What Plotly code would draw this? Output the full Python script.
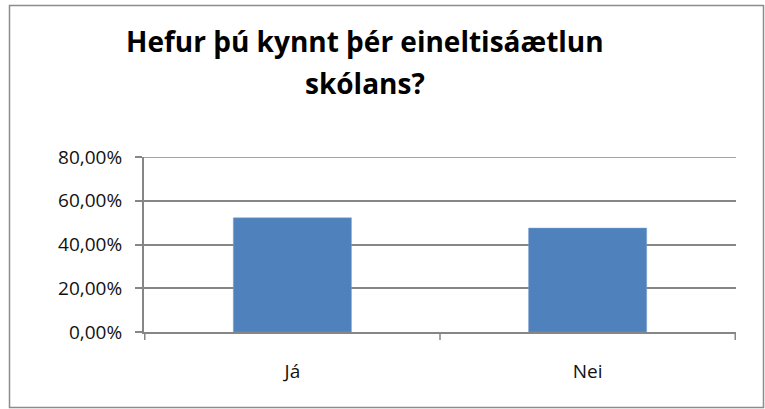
import plotly.graph_objects as go

# ---------------------------------------------------------------------------
# Data
# ---------------------------------------------------------------------------
categories = ["Já", "Nei"]
shares = [52.2, 47.5]  # percent
y_ticks = [0, 20, 40, 60, 80]
y_tick_labels = ["0,00%", "20,00%", "40,00%", "60,00%", "80,00%"]
title_lines = ["Hefur þú kynnt þér eineltisáætlun", "skólans?"]

BAR = "#4f81bd"
GRID = "#868686"
FONT = "Open Sans, Liberation Sans, sans-serif"

W, H = 765, 409
L, R, T, B = 144, 736, 157, 332  # plot area in pixels


def px_x(x):
    return (x - L) / (R - L)


def px_y(y):
    return (B - y) / (B - T)


fig = go.Figure()
fig.add_trace(go.Bar(
    x=categories,
    y=shares,
    marker=dict(color=BAR, line=dict(color="#7a9fcf", width=0.5)),
    width=0.4,
    hovertemplate="%{x}: %{y:.2f}%<extra></extra>",
))

fig.update_layout(
    width=W, height=H,
    margin=dict(l=L, r=W - R, t=T, b=H - B, pad=0),
    paper_bgcolor="white",
    plot_bgcolor="white",
    showlegend=False,
    font=dict(family=FONT, size=19, color="#111111"),
    xaxis=dict(
        showgrid=False,
        showline=True, linecolor=GRID, linewidth=2,
        ticks="", tickfont=dict(size=19),
        ticklabelstandoff=21,
    ),
    yaxis=dict(
        range=[0, 80],
        tickvals=y_ticks, ticktext=y_tick_labels,
        showgrid=True, gridcolor=GRID, gridwidth=1.5,
        showline=True, linecolor=GRID, linewidth=2,
        ticks="outside", ticklen=7, tickcolor=GRID, tickwidth=1.5,
        zeroline=False,
        tickfont=dict(size=19),
        ticklabelstandoff=9,
    ),
    shapes=[
        # outer chart border
        dict(type="rect", xref="paper", yref="paper",
             x0=px_x(9.5), x1=px_x(763.5), y0=px_y(407.5), y1=px_y(5.5),
             line=dict(color="#8c8c8c", width=1.5)),
        # top gridline at the range edge
        dict(type="line", xref="paper", yref="y",
             x0=0, x1=1, y0=y_ticks[-1], y1=y_ticks[-1],
             line=dict(color=GRID, width=1.5)),
    ],
)

# title, two lines placed separately to match the line spacing
for line, base in zip(title_lines, [55, 97]):
    fig.add_annotation(
        text=f"<b>{line}</b>",
        xref="paper", yref="paper",
        x=px_x(365), y=px_y(base + 7),
        xanchor="center", yanchor="bottom",
        showarrow=False,
        font=dict(family=FONT, size=28, color="black"),
    )

# category boundary tick marks on x axis
for xb in [-0.5, 0.5, 1.5]:
    fig.add_shape(type="line", xref="x", yref="paper",
                  x0=xb, x1=xb, y0=0, y1=px_y(340),
                  line=dict(color=GRID, width=1.5))

fig.write_html(
    "out.html",
    config={"displayModeBar": False},
    post_script="document.body.style.margin='0';",
)
